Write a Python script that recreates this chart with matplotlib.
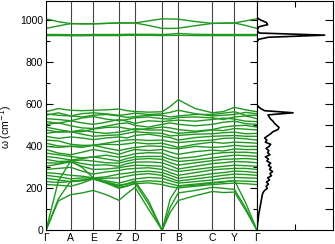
import numpy as np
import matplotlib.pyplot as plt

plt.rcParams["font.family"] = "Liberation Sans"

# High-symmetry points along the path (path length, arbitrary units)
kpoint_labels = ["Γ", "A", "E", "Z", "D", "Γ", "B", "C", "Y", "Γ"]
kpoint_pos = [0, 24.6, 47, 72.6, 88.6, 115.6, 131.6, 165.6, 187.6, 210]

# Branch frequencies (cm^-1), sampled at each node and at the middle of each segment:
# Γ m A m E m Z m D m Γ m B m C m Y m Γ
high_bands = [
    [1008, 994, 985, 984, 984, 986, 988, 988, 988, 998, 1008, 1007, 1006, 995, 986, 987, 988, 998, 1008],
    [962, 974, 985, 984, 984, 986, 988, 988, 988, 976, 962, 962, 963, 975, 986, 987, 988, 976, 962],
    [933, 933, 932, 932, 933, 933, 933, 934, 934, 934, 933, 935, 938, 934, 933, 933, 933, 933, 933],
    [928, 928, 927, 927, 928, 928, 928, 929, 929, 929, 928, 929, 929, 928, 928, 928, 928, 928, 928],
]

optical_bands = [
    [565, 580, 572, 570, 572, 574, 578, 570, 566, 563, 565, 590, 622, 580, 560, 566, 586, 574, 565],
    [555, 548, 545, 556, 560, 555, 548, 552, 558, 552, 555, 562, 572, 556, 545, 548, 552, 562, 555],
    [548, 560, 545, 540, 548, 552, 545, 538, 542, 548, 548, 540, 545, 552, 552, 558, 565, 548, 548],
    [532, 528, 522, 535, 542, 530, 522, 528, 536, 540, 532, 530, 538, 540, 536, 528, 540, 545, 532],
    [518, 510, 522, 512, 505, 515, 528, 520, 510, 522, 518, 522, 525, 520, 528, 535, 530, 520, 518],
    [505, 512, 498, 488, 485, 496, 508, 512, 500, 492, 505, 512, 505, 498, 505, 515, 520, 508, 505],
    [492, 480, 470, 470, 482, 490, 492, 485, 478, 485, 492, 488, 480, 472, 480, 492, 498, 500, 492],
    [478, 468, 470, 478, 468, 462, 468, 475, 485, 478, 478, 470, 462, 468, 478, 475, 485, 482, 478],
    [462, 470, 470, 458, 448, 452, 455, 462, 470, 465, 462, 450, 452, 458, 460, 465, 468, 460, 462],
    [448, 438, 445, 440, 432, 440, 445, 440, 452, 458, 448, 442, 430, 442, 448, 450, 452, 448, 448],
    [430, 426, 410, 405, 405, 415, 425, 430, 432, 428, 430, 422, 418, 425, 430, 438, 440, 436, 430],
    [415, 402, 400, 395, 405, 410, 408, 412, 418, 412, 415, 405, 395, 410, 420, 415, 420, 418, 415],
    [400, 395, 400, 402, 405, 392, 380, 388, 395, 402, 400, 392, 388, 400, 395, 398, 405, 400, 400],
    [385, 368, 360, 372, 385, 375, 362, 375, 385, 380, 385, 372, 362, 375, 382, 378, 388, 385, 385],
    [368, 360, 352, 345, 350, 358, 348, 355, 365, 370, 368, 352, 342, 350, 365, 370, 372, 372, 368],
    [352, 345, 335, 342, 350, 340, 330, 342, 350, 352, 352, 338, 328, 335, 345, 352, 358, 356, 352],
    [338, 328, 330, 335, 330, 322, 320, 330, 338, 342, 338, 322, 310, 322, 332, 338, 340, 342, 338],
    [322, 320, 330, 318, 310, 312, 305, 318, 325, 326, 322, 308, 292, 305, 318, 322, 328, 326, 322],
    [305, 315, 326, 305, 290, 292, 298, 305, 310, 308, 305, 290, 280, 290, 300, 305, 310, 308, 305],
    [290, 295, 300, 282, 268, 278, 285, 292, 295, 298, 290, 275, 262, 275, 288, 292, 295, 295, 290],
    [275, 270, 262, 258, 250, 255, 268, 272, 278, 282, 275, 262, 248, 258, 270, 275, 282, 280, 275],
    [262, 255, 245, 250, 248, 248, 250, 258, 265, 270, 262, 248, 235, 245, 255, 262, 268, 266, 262],
    [248, 240, 232, 238, 248, 236, 225, 235, 245, 252, 248, 236, 225, 232, 240, 248, 252, 250, 248],
    [232, 228, 232, 236, 245, 228, 212, 220, 230, 236, 232, 222, 212, 220, 228, 232, 236, 234, 232],
    [218, 215, 210, 225, 245, 230, 205, 212, 222, 226, 218, 208, 202, 210, 218, 222, 225, 222, 218],
]

acoustic_bands = [
    [0, 235, 330, 300, 250, 230, 215, 222, 235, 140, 0, 150, 210, 215, 225, 230, 238, 130, 0],
    [0, 150, 235, 240, 245, 225, 200, 210, 225, 125, 0, 110, 178, 190, 205, 200, 195, 105, 0],
    [0, 140, 170, 178, 190, 170, 143, 175, 205, 100, 0, 85, 142, 165, 185, 180, 182, 95, 0],
]

# Phonon density of states, every 10 cm^-1 from 0
dos_values = [
    0, 0.005, 0.01, 0.015, 0.02, 0.03, 0.035, 0.04, 0.05, 0.06,
    0.07, 0.08, 0.09, 0.1, 0.11, 0.12, 0.13, 0.14, 0.16, 0.2,
    0.27, 0.24, 0.3, 0.25, 0.33, 0.28, 0.38, 0.34, 0.41, 0.33,
    0.37, 0.3, 0.36, 0.26, 0.3, 0.22, 0.34, 0.28, 0.31, 0.24,
    0.32, 0.36, 0.22, 0.26, 0.2, 0.28, 0.36, 0.42, 0.55, 0.58,
    0.52, 0.46, 0.42, 0.36, 0.32, 0.29, 0.95, 0.2, 0.1, 0.03,
    0, 0, 0, 0, 0, 0, 0, 0, 0, 0,
    0, 0, 0, 0, 0, 0, 0, 0, 0, 0,
    0, 0, 0, 0, 0, 0, 0, 0, 0, 0,
    0.01, 0.04, 0.3, 1.78, 0.06, 0.01, 0.02, 0.05, 0.28, 0.25,
    0.12, 0.02, 0, 0, 0, 0, 0, 0, 0, 0,
]
dos_freq = np.arange(len(dos_values)) * 10

# k coordinates: nodes plus segment midpoints
nodes = np.array(kpoint_pos, dtype=float)
kpath = np.empty(2 * len(nodes) - 1)
kpath[0::2] = nodes
kpath[1::2] = (nodes[:-1] + nodes[1:]) / 2

fig = plt.figure(figsize=(3.35, 2.44), dpi=100)
ax = fig.add_axes([46 / 335, 0.0561, 211 / 335, 0.9418])
ax_dos = fig.add_axes([257 / 335, 0.0561, 76 / 335, 0.9418])

green = "#1f981f"
for band in high_bands + optical_bands + acoustic_bands:
    ax.plot(kpath, band, color=green, lw=1.0, solid_joinstyle="round")

for x in kpoint_pos[1:-1]:
    ax.axvline(x, color="#444444", lw=0.8, zorder=0)

ax.set_xlim(kpoint_pos[0], kpoint_pos[-1])
ax.set_ylim(0, 1095)
ax.set_xticks(kpoint_pos)
ax.set_xticklabels(kpoint_labels, fontsize=7.5)
ax.tick_params(axis="x", length=0, pad=2)
ax.set_yticks([0, 200, 400, 600, 800, 1000])
ax.set_yticks(np.arange(100, 1100, 200), minor=True)
ax.tick_params(axis="y", which="both", direction="in", right=True, labelsize=7.5, pad=2, width=0.8)
ax.tick_params(axis="y", which="major", length=5)
ax.tick_params(axis="y", which="minor", length=3)
ax.set_ylabel("ω (cm$^{-1}$)", fontsize=7.5)
ax.yaxis.set_label_coords(-0.15, 0.45)
for sp in ax.spines.values():
    sp.set_linewidth(0.8)

# DOS panel
ax_dos.plot(dos_values, dos_freq, color="black", lw=1.2)
ax_dos.set_xlim(0, 2)
ax_dos.set_ylim(0, 1095)
ax_dos.set_xticks([1])
ax_dos.set_yticks(np.arange(100, 1100, 100))
ax_dos.tick_params(axis="x", direction="in", top=True, length=4, width=0.8, labelbottom=False)
ax_dos.tick_params(axis="y", direction="in", left=False, right=True, length=6, width=0.8, labelleft=False)
for sp in ax_dos.spines.values():
    sp.set_linewidth(0.8)

plt.savefig("out.png", dpi=100)
